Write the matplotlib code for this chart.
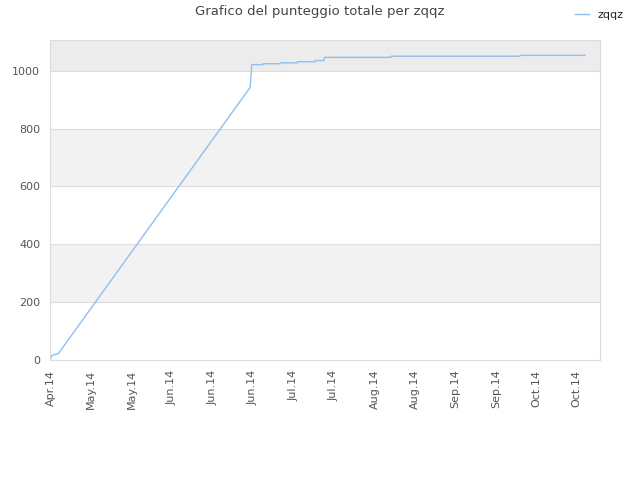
import matplotlib
matplotlib.use("Agg")
import matplotlib.pyplot as plt
import matplotlib.dates as mdates
import pandas as pd
import numpy as np

start = pd.Timestamp("2014-04-20")
day_offsets = [0, 0.3, 1.0, 2.6, 69.0, 69.6, 73.4, 73.5, 79.3, 79.4, 85.3, 85.4,
               91.4, 91.5, 94.5, 94.8, 117.7, 117.8, 162.3, 162.4, 184.8]
scores = [2, 14, 18, 21, 942, 1021, 1021, 1024, 1024, 1027, 1027, 1031,
          1031, 1035, 1035, 1046, 1046, 1050, 1050, 1053, 1053]
series_name = "zqqz"
title = "Grafico del punteggio totale per zqqz"
tick_dates = pd.date_range(start, periods=14, freq="14D")
y_ticks = [0, 200, 400, 600, 800, 1000]

dates = [start + pd.Timedelta(days=d) for d in day_offsets]

fig = plt.figure(figsize=(6.4, 4.8), dpi=100)
ax = fig.add_axes([50/640, 1-360/480, 550/640, 320/480])

ymax = 1106
ax.axhspan(200, 400, color="#f2f2f2", zorder=0, lw=0)
ax.axhspan(600, 800, color="#f2f2f2", zorder=0, lw=0)
ax.axhspan(1000, ymax, color="#ececec", zorder=0, lw=0)
for yv in y_ticks[1:]:
    ax.axhline(yv, color="#dddddd", lw=0.8, zorder=0.5)

ax.plot(dates, scores, color="#8fbff0", lw=1.0, label=series_name, zorder=2)

ax.set_ylim(0, ymax)
ax.set_xlim(start - pd.Timedelta(days=0.2), start + pd.Timedelta(days=190))
ax.set_yticks(y_ticks)
ax.set_xticks(tick_dates)
ax.xaxis.set_major_formatter(mdates.DateFormatter("%b.%y"))
ax.tick_params(axis="x", rotation=90, length=0, pad=7, labelsize=8, labelcolor="#555555")
ax.tick_params(axis="y", length=0, pad=7, labelsize=8, labelcolor="#555555")
for s in ax.spines.values():
    s.set_color("#dddddd")
    s.set_linewidth(0.8)

fig.text(0.5, 1-12/480, title, ha="center", va="center", fontsize=9.5, color="#444444")
leg = fig.legend(loc="upper right", bbox_to_anchor=(0.99, 1.0), frameon=False, fontsize=8,
                 handlelength=1.2, handletextpad=0.8)
for t in leg.get_texts():
    t.set_color("#222222")

fig.savefig("out.png", dpi=100)
